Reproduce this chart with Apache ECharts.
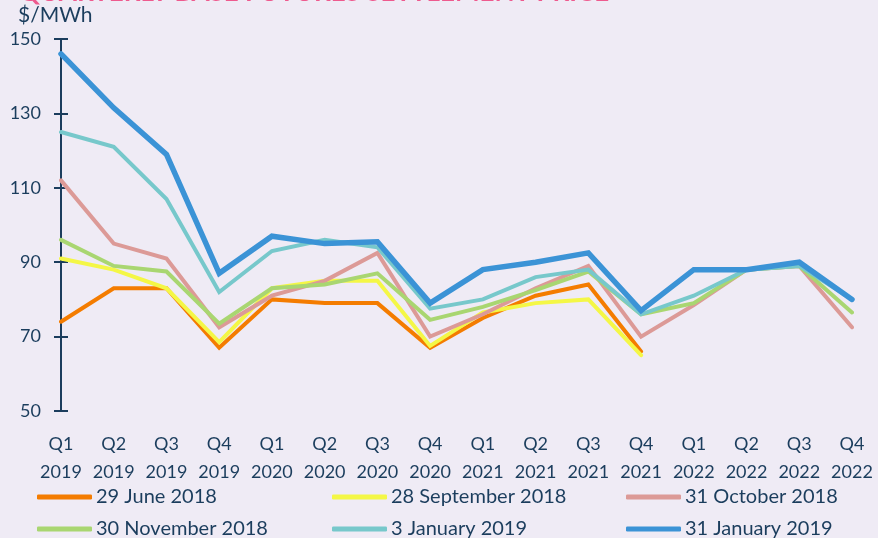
<!DOCTYPE html>
<html>
<head>
<meta charset="utf-8">
<script src="https://cdn.jsdelivr.net/npm/echarts@6/dist/echarts.min.js"></script>
<style>
html,body{margin:0;padding:0;background:#efebf5;}
#main{width:878px;height:538px;}
</style>
</head>
<body>
<div id="main"></div>
<script>
var quarters = ['Q1\n2019','Q2\n2019','Q3\n2019','Q4\n2019','Q1\n2020','Q2\n2020','Q3\n2020','Q4\n2020',
                'Q1\n2021','Q2\n2021','Q3\n2021','Q4\n2021','Q1\n2022','Q2\n2022','Q3\n2022','Q4\n2022'];
var june2018 = [74, 83, 83, 67, 80, 79, 79, 67, 75, 81, 84, 66];
var sep2018  = [91, 88, 83, 68.5, 83, 85, 85, 67.5, 76.5, 79, 80, 65];
var oct2018  = [112, 95, 91, 72.5, 81, 85, 92.5, 70, 76, 83, 89, 70, 78.5, 88, 89, 72.5];
var nov2018  = [96, 89, 87.5, 73.5, 83, 84, 87, 74.5, 78, 82.5, 87.5, 76, 79, 88, 89, 76.5];
var jan2019a = [125, 121, 107, 82, 93, 96, 94, 77.5, 80, 86, 88, 76, 81, 88, 89, 80];
var jan2019b = [146, 131.5, 119, 87, 97, 95, 95.5, 79, 88, 90, 92.5, 77, 88, 88, 90, 80];
var yTicks = [50, 70, 90, 110, 130, 150];

var textColor = '#1b3d5d';
var font = 'Lato';

var MyEchart = echarts.init(document.getElementById('main'));

function line(name, data, color, width) {
	return {
		name: name,
		type: 'line',
		data: data,
		symbol: 'none',
		lineStyle: { color: color, width: width, cap: 'round', join: 'miter' },
		itemStyle: { color: color }
	};
}

// one legend per entry so the 3x2 grid lines up like the original
function legendItem(left, top, name) {
	return {
		left: left,
		top: top,
		itemWidth: 55,
		itemHeight: 5,
		icon: 'roundRect',
		data: [name],
		textStyle: { color: textColor, fontSize: 20, fontFamily: font, padding: [0, 0, 0, -1] }
	};
}

var option = {
	backgroundColor: '#efebf5',
	animation: false,
	title: {
		text: 'QUARTERLY BASE FUTURES SETTLEMENT PRICE',
		left: 14,
		top: -25,
		textStyle: { color: '#ee5a8e', fontSize: 26, fontWeight: 'bold', fontFamily: font }
	},
	graphic: [{
		type: 'text',
		left: 18,
		top: 5,
		style: { text: '$/MWh', fill: textColor, fontSize: 21, fontFamily: font }
	}],
	legend: [
		legendItem(32, 482, '29 June 2018'),
		legendItem(32, 514, '30 November 2018'),
		legendItem(327, 482, '28 September 2018'),
		legendItem(327, 514, '3 January 2019'),
		legendItem(621, 482, '31 October 2018'),
		legendItem(621, 514, '31 January 2019')
	],
	grid: { left: 61, right: 26, top: 39, bottom: 127 },
	xAxis: {
		type: 'category',
		boundaryGap: false,
		data: quarters,
		axisLine: { show: false },
		axisTick: { show: false },
		axisLabel: {
			interval: 0,
			margin: 19,
			color: textColor,
			fontSize: 18,
			lineHeight: 28,
			fontFamily: font
		}
	},
	yAxis: [{
		type: 'value',
		min: yTicks[0],
		max: yTicks[yTicks.length - 1],
		interval: 20,
		splitLine: { show: false },
		axisLine: { show: true, lineStyle: { color: textColor, width: 2 } },
		axisTick: { show: true, length: 7, lineStyle: { color: textColor, width: 2 } },
		axisLabel: { color: textColor, fontSize: 18, fontFamily: font, margin: 20 }
	}, {
		type: 'value',
		position: 'left',
		min: yTicks[0],
		max: yTicks[yTicks.length - 1],
		interval: 20,
		splitLine: { show: false },
		axisLine: { show: false },
		axisTick: { show: true, inside: true, length: 7, lineStyle: { color: textColor, width: 2 } },
		axisLabel: { show: false }
	}],
	series: [
		line('29 June 2018', june2018, '#f47c00', 4),
		line('28 September 2018', sep2018, '#f4f746', 4),
		line('31 October 2018', oct2018, '#dc9a97', 4),
		line('30 November 2018', nov2018, '#a9d671', 4),
		line('3 January 2019', jan2019a, '#77c8cb', 4),
		line('31 January 2019', jan2019b, '#3b93d6', 5.5)
	]
};
MyEchart.setOption(option);
</script>
</body>
</html>
